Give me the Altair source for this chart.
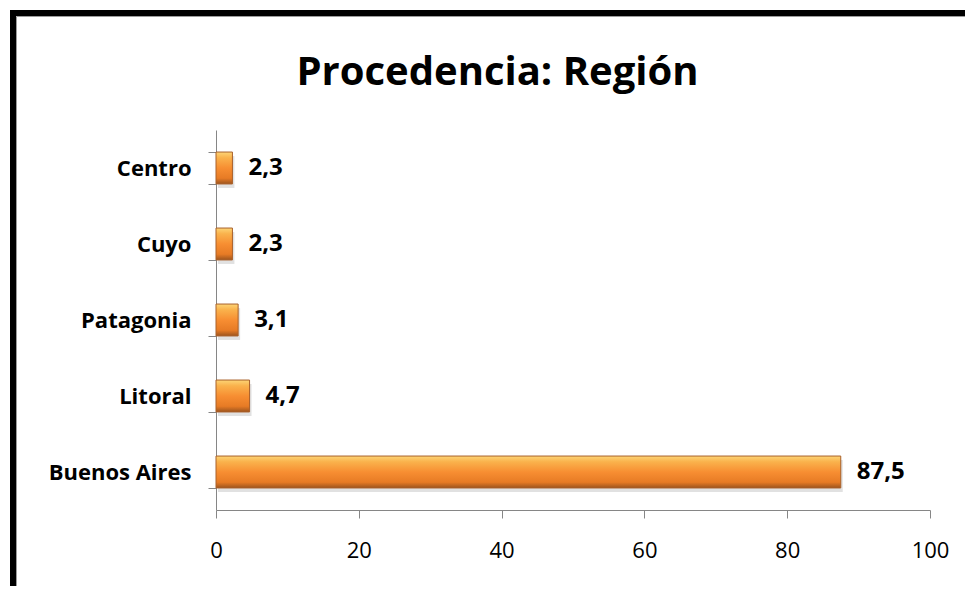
import altair as alt
import pandas as pd

regions = ["Centro", "Cuyo", "Patagonia", "Litoral", "Buenos Aires"]
values = [2.3, 2.3, 3.1, 4.7, 87.5]
labels = [f"{v:.1f}".replace(".", ",") for v in values]
x_ticks = [0, 20, 40, 60, 80, 100]
title_text = "Procedencia: Región"

df = pd.DataFrame({"region": regions, "value": values, "label": labels})

FONT = "Open Sans"
AX = "#868686"

y_enc = alt.Y(
    "region:N",
    sort=regions,
    title=None,
    scale=alt.Scale(paddingInner=0.58, paddingOuter=0.29),
    axis=alt.Axis(
        labelFont=FONT, labelFontSize=22, labelFontWeight="bold", labelColor="black",
        labelPadding=17, tickSize=8, tickBand="extent", tickColor=AX,
        domainColor=AX, labelBaseline="middle", labelLimit=300,
    ),
)
x_enc = alt.X(
    "value:Q",
    title=None,
    scale=alt.Scale(domain=[0, 100]),
    axis=alt.Axis(
        values=x_ticks, labelFont=FONT, labelFontSize=22, labelColor="black",
        labelPadding=22, tickSize=8, tickColor=AX, domainColor=AX, grid=False,
        labelFlush=False,
    ),
)

gradient = alt.LinearGradient(
    gradient="linear", x1=0, y1=0, x2=0, y2=1,
    stops=[
        alt.GradientStop(color="#FDD576", offset=0),
        alt.GradientStop(color="#FAB24C", offset=0.18),
        alt.GradientStop(color="#F78E32", offset=0.5),
        alt.GradientStop(color="#E77B25", offset=0.82),
        alt.GradientStop(color="#9C541E", offset=1),
    ],
)

base = alt.Chart(df)

shadow = base.mark_bar(color="#9a9a9a", opacity=0.3, xOffset=2, yOffset=4).encode(
    x=x_enc, y=y_enc
)
bars = base.mark_bar(color=gradient, stroke="#A9602A", strokeWidth=1).encode(
    x=x_enc, y=y_enc
)
text = base.mark_text(
    align="left", baseline="middle", dx=16, font=FONT, fontSize=24,
    fontWeight="bold", color="black",
).encode(x=x_enc, y=y_enc, text="label:N")

one = alt.Data(values=[{"t": title_text}])
title = alt.Chart(one).mark_text(
    align="center", baseline="alphabetic", font=FONT, fontSize=40,
    fontWeight="bold", color="black",
).encode(x=alt.value(281.5), y=alt.value(-45), text="t:N")
border = alt.Chart(one).mark_rect(
    fill=None, stroke="black", strokeWidth=6
).encode(
    x=alt.value(-203), x2=alt.value(800), y=alt.value(-117), y2=alt.value(520)
)
inner = alt.Chart(one).mark_rect(
    fill=None, stroke="#9c9c9c", strokeWidth=1
).encode(
    x=alt.value(-199.5), x2=alt.value(800), y=alt.value(-113.5), y2=alt.value(520)
)

chart = alt.layer(shadow, bars, text, title, inner, border).properties(
    width=714,
    height=380,
    autosize=alt.AutoSizeParams(type="none"),
    padding={"left": 208, "top": 122, "right": 35, "bottom": 76},
    background="white",
).configure_view(strokeWidth=0, stroke=None)

chart.save("out.html", embed_options={"renderer": "svg", "actions": False})
